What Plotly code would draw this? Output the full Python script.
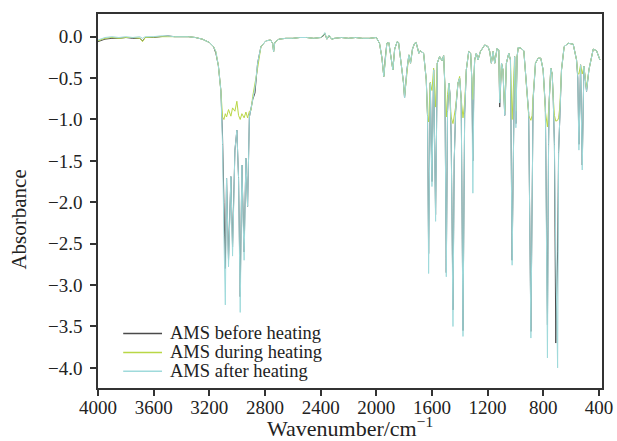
import plotly.graph_objects as go

# wavenumber points (cm^-1), high to low
wavenumber = [
    4000, 3950, 3900, 3850, 3800, 3750, 3700, 3680, 3660, 3600, 3550, 3500,
    3450, 3400, 3350, 3300, 3250, 3200, 3170, 3153, 3135, 3117, 3105, 3095,
    3085, 3076, 3062, 3045, 3033, 3016, 3002, 2990, 2978, 2966, 2950, 2937,
    2925, 2912, 2900, 2888, 2872, 2853, 2829, 2793, 2760, 2745, 2738, 2730,
    2700, 2650, 2600, 2550, 2500, 2450, 2400, 2380, 2370, 2355, 2340, 2320,
    2300, 2250, 2200, 2150, 2100, 2050, 2000, 1977, 1960, 1946, 1935, 1924,
    1910, 1895, 1881, 1868, 1850, 1840, 1821, 1805, 1797, 1788, 1780, 1766,
    1754, 1740, 1725, 1714, 1694, 1685, 1677, 1660, 1641, 1632, 1624, 1616,
    1612, 1600, 1588, 1574, 1562, 1545, 1528, 1516, 1507, 1497, 1488, 1478,
    1470, 1462, 1449, 1440, 1430, 1413, 1401, 1390, 1377, 1365, 1353, 1336,
    1322, 1314, 1306, 1298, 1293, 1281, 1269, 1252, 1221, 1197, 1185, 1173,
    1161, 1149, 1132, 1120, 1113, 1100, 1090, 1077, 1065, 1048, 1036, 1024,
    1012, 1006, 997, 988, 980, 960, 940, 921, 905, 889, 880, 873,
    856, 837, 818, 801, 785, 770, 762, 758, 746, 736, 729, 720,
    710, 697, 690, 681, 669, 650, 621, 585, 561, 552, 544, 532,
    520, 508, 489, 472, 441, 417, 393,
]

after_heating = [
    -0.04, -0.01, 0.00, -0.01, 0.00, -0.01, 0.00, -0.02, 0.00, 0.00, 0.01, 0.01,
    0.00, 0.00, 0.00, -0.01, -0.03, -0.07, -0.12, -0.18, -0.35, -0.65, -1.30, -2.40,
    -3.24, -1.71, -2.78, -1.69, -2.65, -1.37, -1.13, -1.70, -3.33, -1.55, -2.70, -1.47,
    -2.05, -0.97, -0.85, -0.76, -0.62, -0.32, -0.12, -0.05, -0.04, -0.08, -0.18, -0.07,
    -0.03, -0.02, -0.02, -0.01, -0.01, -0.02, -0.01, 0.02, 0.05, -0.03, 0.02, -0.03,
    -0.02, -0.01, -0.02, -0.01, -0.02, -0.02, -0.01, -0.08, -0.25, -0.48, -0.25, -0.08,
    -0.07, -0.22, -0.40, -0.15, -0.06, -0.07, -0.32, -0.55, -0.74, -0.55, -0.40, -0.22,
    -0.32, -0.15, -0.08, -0.07, -0.20, -0.17, -0.18, -0.20, -0.52, -0.95, -2.86, -1.00,
    -0.56, -1.81, -0.40, -2.23, -0.32, -0.24, -0.29, -0.23, -0.60, -2.90, -0.90, -0.56,
    -0.70, -1.20, -3.50, -1.50, -0.90, -0.56, -0.50, -0.75, -3.62, -0.93, -0.40, -0.18,
    -0.20, -0.50, -1.89, -0.50, -0.28, -0.20, -0.28, -0.18, -0.10, -0.12, -0.18, -0.32,
    -0.18, -0.32, -0.14, -0.16, -0.80, -0.32, -0.40, -0.95, -0.32, -0.20, -0.28, -2.76,
    -0.40, -0.24, -1.10, -0.24, -0.13, -0.14, -0.17, -0.60, -0.92, -3.64, -1.20, -0.76,
    -0.32, -0.26, -0.26, -0.40, -0.85, -3.88, -1.30, -0.80, -0.38, -0.45, -0.72, -1.30,
    -2.60, -4.00, -1.40, -0.90, -0.40, -0.12, -0.08, -0.09, -0.28, -0.50, -1.37, -0.34,
    -1.61, -0.36, -0.66, -0.40, -0.15, -0.17, -0.28,
]

before_heating = [
    -0.06, -0.03, -0.02, -0.02, -0.01, -0.02, -0.02, -0.05, -0.01, -0.01, 0.00, 0.01,
    0.00, 0.00, 0.00, -0.01, -0.03, -0.07, -0.12, -0.20, -0.35, -0.65, -1.20, -2.00,
    -2.80, -1.71, -2.70, -1.69, -2.54, -1.37, -1.13, -1.70, -3.14, -1.55, -2.60, -1.47,
    -2.05, -0.97, -0.85, -0.76, -0.68, -0.32, -0.12, -0.05, -0.04, -0.08, -0.18, -0.07,
    -0.03, -0.02, -0.02, -0.01, -0.01, -0.02, -0.01, 0.01, 0.04, -0.03, 0.01, -0.03,
    -0.02, -0.01, -0.02, -0.01, -0.02, -0.02, -0.01, -0.08, -0.25, -0.48, -0.25, -0.08,
    -0.07, -0.22, -0.40, -0.15, -0.06, -0.07, -0.32, -0.55, -0.74, -0.55, -0.40, -0.22,
    -0.32, -0.15, -0.08, -0.07, -0.20, -0.17, -0.18, -0.20, -0.52, -0.95, -2.62, -1.00,
    -0.56, -1.75, -0.40, -2.15, -0.32, -0.24, -0.29, -0.23, -0.60, -2.85, -0.90, -0.56,
    -0.70, -1.20, -3.30, -1.50, -0.90, -0.56, -0.50, -0.75, -3.55, -0.93, -0.40, -0.18,
    -0.20, -0.50, -1.50, -0.50, -0.28, -0.20, -0.28, -0.18, -0.10, -0.12, -0.18, -0.32,
    -0.18, -0.32, -0.14, -0.16, -0.85, -0.32, -0.40, -0.95, -0.32, -0.20, -0.28, -2.70,
    -0.40, -0.24, -1.05, -0.24, -0.13, -0.14, -0.17, -0.60, -0.92, -3.56, -1.20, -0.76,
    -0.32, -0.26, -0.26, -0.40, -0.85, -3.48, -1.30, -0.80, -0.38, -0.45, -0.72, -1.30,
    -3.70, -2.60, -1.40, -0.90, -0.40, -0.12, -0.08, -0.09, -0.28, -0.50, -1.30, -0.34,
    -1.55, -0.36, -0.66, -0.40, -0.15, -0.17, -0.28,
]

during_heating = [
    -0.05, -0.02, -0.01, -0.02, -0.01, -0.01, -0.02, -0.06, -0.01, 0.00, 0.00, 0.00,
    0.00, 0.00, 0.00, -0.01, -0.03, -0.07, -0.12, -0.18, -0.35, -0.65, -0.97, -1.00,
    -0.93, -0.97, -0.88, -0.96, -0.86, -0.90, -0.78, -0.95, -1.00, -0.93, -0.98, -0.91,
    -0.98, -0.90, -0.89, -0.72, -0.54, -0.38, -0.12, -0.05, -0.04, -0.08, -0.18, -0.07,
    -0.03, -0.02, -0.02, -0.01, -0.01, -0.02, -0.01, 0.02, 0.04, -0.03, 0.02, -0.03,
    -0.02, -0.01, -0.02, -0.01, -0.02, -0.02, -0.01, -0.08, -0.25, -0.48, -0.25, -0.08,
    -0.07, -0.22, -0.40, -0.15, -0.06, -0.07, -0.32, -0.55, -0.72, -0.55, -0.40, -0.22,
    -0.32, -0.15, -0.08, -0.07, -0.20, -0.17, -0.18, -0.20, -0.52, -0.95, -1.03, -0.80,
    -0.55, -0.65, -0.38, -0.85, -0.32, -0.24, -0.29, -0.23, -0.60, -0.97, -0.70, -0.56,
    -0.75, -0.97, -1.05, -0.95, -0.85, -0.56, -0.48, -0.75, -0.98, -0.80, -0.40, -0.18,
    -0.20, -0.50, -0.76, -0.50, -0.28, -0.20, -0.28, -0.18, -0.10, -0.12, -0.18, -0.32,
    -0.18, -0.32, -0.14, -0.16, -0.75, -0.32, -0.40, -0.90, -0.32, -0.20, -0.28, -1.00,
    -0.40, -0.24, -0.90, -0.24, -0.13, -0.14, -0.17, -0.60, -0.95, -1.01, -0.95, -0.72,
    -0.32, -0.26, -0.26, -0.40, -0.90, -1.09, -0.95, -0.80, -0.38, -0.45, -0.72, -0.95,
    -1.02, -1.01, -0.98, -0.85, -0.40, -0.12, -0.08, -0.09, -0.28, -0.45, -0.45, -0.34,
    -0.45, -0.36, -0.62, -0.40, -0.15, -0.17, -0.28,
]

series_names = ["AMS before heating", "AMS during heating", "AMS after heating"]
series_colors = ["#4a4a4a", "#b9d745", "#9fdadb"]

y_ticks = [0.0, -0.5, -1.0, -1.5, -2.0, -2.5, -3.0, -3.5, -4.0]
x_ticks = [4000, 3600, 3200, 2800, 2400, 2000, 1600, 1200, 800, 400]

FONT = "Liberation Serif"
TEXT = "#222222"

fig = go.Figure()
for name, vals, col in zip(series_names,
                           [before_heating, during_heating, after_heating],
                           series_colors):
    fig.add_trace(go.Scatter(x=wavenumber, y=vals, mode="lines", name=name,
                             showlegend=False, line=dict(color=col, width=1)))

axis_style = dict(showgrid=False, zeroline=False, showline=True, mirror=True,
                  automargin=False,
                  linecolor="#333333", linewidth=1.5, ticks="outside",
                  ticklen=6, tickwidth=1.5, tickcolor="#333333",
                  tickfont=dict(family=FONT, size=19, color=TEXT))

fig.update_xaxes(range=[4000, 378], tickvals=x_ticks, ticklabelstandoff=-5,
                 **axis_style)
fig.update_yaxes(range=[-4.243, 0.274], tickvals=y_ticks, tickformat=".1f",
                 ticklabelstandoff=4, **axis_style)

fig.add_annotation(text="Absorbance", textangle=-90, xref="paper", yref="paper",
                   x=-0.157, y=0.45, xanchor="center", yanchor="middle",
                   showarrow=False, font=dict(family=FONT, size=21, color=TEXT))
fig.add_annotation(text="Wavenumber/cm<sup>\u22121</sup>", xref="paper", yref="paper",
                   x=0.5, y=-0.104, xanchor="center", yanchor="middle",
                   showarrow=False, font=dict(family=FONT, size=22, color=TEXT))

# hand-made legend in the lower left corner
legend_rows = [0.146, 0.095, 0.045]
for name, col, ry in zip(series_names, series_colors, legend_rows):
    fig.add_shape(type="line", xref="paper", yref="paper",
                  x0=0.05, x1=0.127, y0=ry, y1=ry,
                  line=dict(color=col, width=1.5))
    fig.add_annotation(text=name, xref="paper", yref="paper", x=0.139, y=ry,
                       xanchor="left", yanchor="middle", showarrow=False,
                       font=dict(family=FONT, size=18.5, color=TEXT))

fig.update_layout(
    width=617, height=441,
    margin=dict(l=98, r=15, t=14, b=53),
    plot_bgcolor="white", paper_bgcolor="white",
)

fig.write_html("out.html", config={"displayModeBar": False},
               post_script="document.body.style.margin='0';")
